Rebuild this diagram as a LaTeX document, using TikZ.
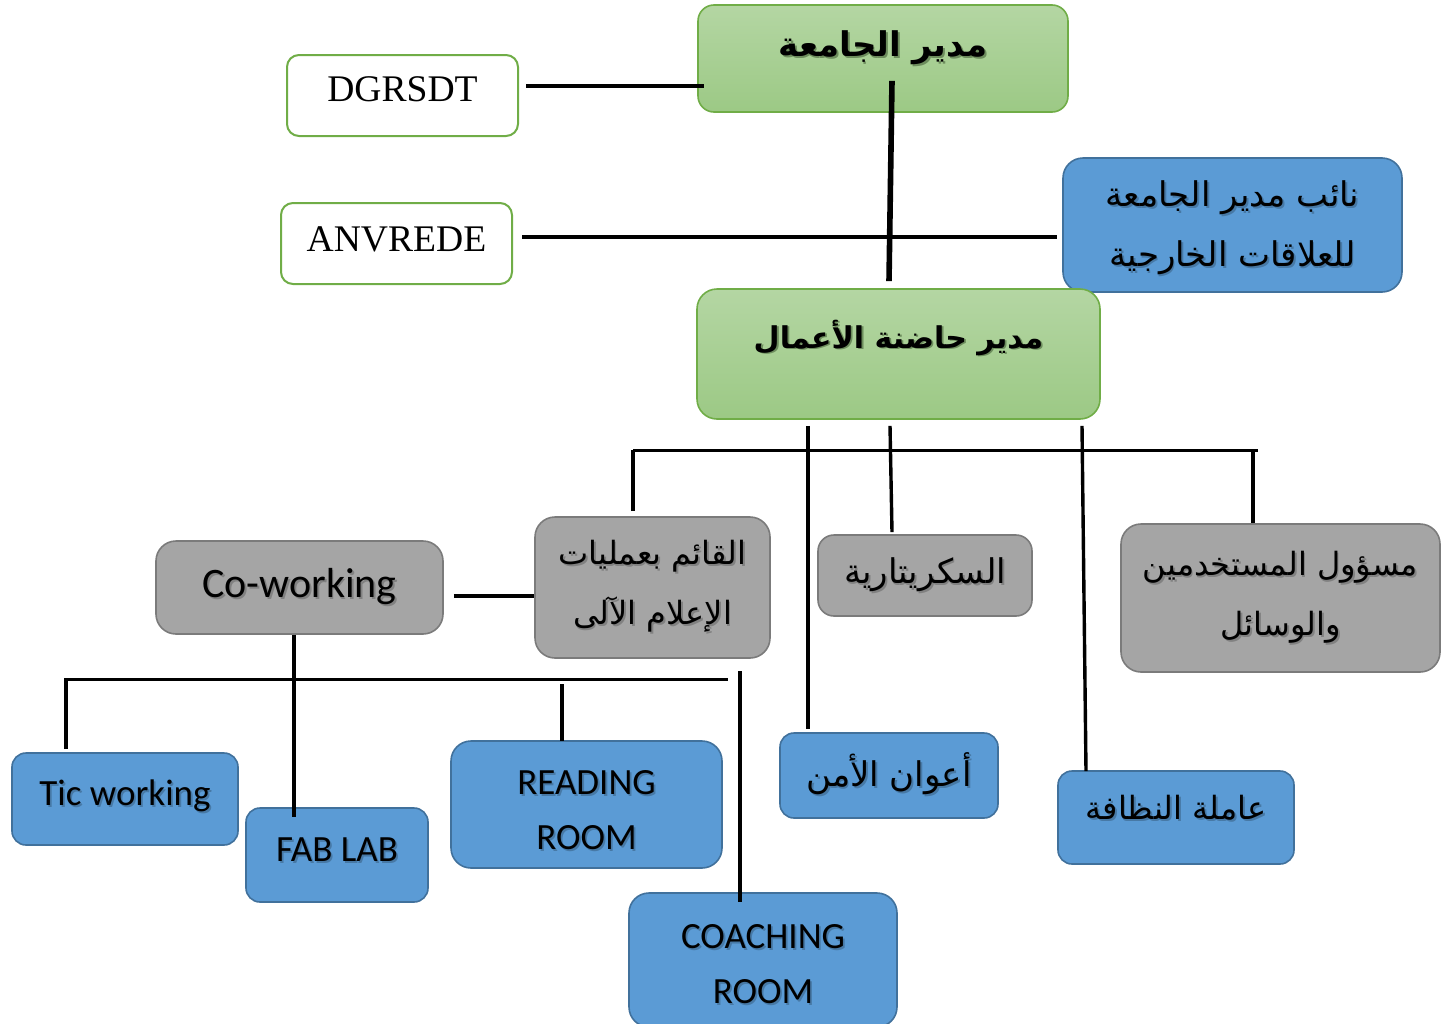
\documentclass[tikz,border=0pt]{standalone}
\usepackage{fontspec}
\setmainfont{Liberation Serif}
\newfontfamily\arabicfont[Script=Arabic]{DejaVu Sans}
\newfontfamily\calibrifont{Carlito}
\TeXXeTstate=1
\usetikzlibrary{calc}
\definecolor{grnline}{HTML}{70AD47}
\definecolor{grnA}{HTML}{B4D6A3}
\definecolor{grnB}{HTML}{9CC985}
\definecolor{bluefill}{HTML}{5B9BD5}
\definecolor{blueline}{HTML}{41719C}
\definecolor{grayfill}{HTML}{A5A5A5}
\definecolor{grayline}{HTML}{7B7B7B}
\colorlet{shcol}{gray}
% right-to-left Arabic run
\newcommand{\ar}[1]{\beginR #1\endR}
% text with a soft offset shadow underneath
\newcommand{\shd}[1]{\leavevmode\rlap{\kern0.9pt\raisebox{-0.9pt}{\color{shcol}#1}}#1}
% push the text of a box upwards by adding depth below it
\newcommand{\lift}[1]{\rule[-#1]{0pt}{0pt}}
\tikzset{
  box/.style={rounded corners=8pt, line width=0.8pt, inner sep=0pt, align=center, text=black},
  sz/.style 2 args={minimum width=#1*0.5pt, minimum height=#2*0.5pt},
  greenbox/.style={box, draw=grnline, top color=grnA, bottom color=grnB,
    execute at begin node={\colorlet{shcol}{grnB!70!black}}},
  whitebox/.style={box, draw=grnline, line width=1pt, fill=white, rounded corners=6pt,
    font=\fontsize{18.8}{24}\selectfont},
  bluebox/.style={box, draw=blueline, fill=bluefill, rounded corners=7pt,
    execute at begin node={\colorlet{shcol}{bluefill!78!black}}},
  graybox/.style={box, draw=grayline, fill=grayfill, rounded corners=10pt,
    execute at begin node={\colorlet{shcol}{grayfill!78!black}}},
  arfont/.style={font=\arabicfont\fontsize{#1}{30}\selectfont},
  arfont/.default=17,
  arbold/.style={font=\arabicfont\bfseries\fontsize{#1}{30}\selectfont},
  latfont/.style={font=\calibrifont\fontsize{18.5}{27.5}\selectfont},
  link/.style={line width=1.7pt, draw=black},
  heavylink/.style={line width=2.8pt, draw=black}
}
\begin{document}
\begin{tikzpicture}[x=0.5pt,y=-0.5pt]
\useasboundingbox (0,0) rectangle (1450,1023);
\clip (0,0) rectangle (1450,1023);

% upper level
\node[greenbox, arbold=17, sz={370}{107}] (top) at (883,58.5) {\shd{\ar{مدير الجامعة}}\lift{15pt}};
\node[whitebox, sz={231}{81}] (dg) at (402.5,95.5) {DGRSDT\lift{6pt}};
\node[whitebox, sz={231}{81}] (an) at (396.5,243.5) {ANVREDE\lift{4pt}};
\node[bluebox, arfont, sz={339}{134}, rounded corners=10pt] (vice) at (1232.5,225)
  {\rule{0pt}{17pt}\shd{\ar{نائب مدير الجامعة}}\\\shd{\ar{للعلاقات الخارجية}}};
\node[greenbox, arbold=15, sz={403}{130}, rounded corners=10pt] (mid) at (898.5,354)
  {\shd{\ar{مدير حاضنة الأعمال}}\lift{20pt}};

% second level
\node[graybox, arfont=16, sz={235}{141}] (qa) at (652.5,587.5)
  {\shd{\ar{القائم بعمليات}}\\\shd{\ar{الإعلام الآلى}}};
\node[graybox, sz={287}{93}, font=\calibrifont\fontsize{21}{25}\selectfont] (cw) at (299.5,587.5) {\shd{Co-working}};
\node[graybox, arfont, sz={214}{81}, rounded corners=8pt] (sec) at (925,575.5) {\shd{\ar{السكريتارية}}};
\node[graybox, arfont=16, sz={319}{148}] (ms) at (1280.5,598)
  {\shd{\ar{مسؤول المستخدمين}}\\\shd{\ar{والوسائل}}};

% third level
\node[bluebox, latfont, sz={226}{92}] (tic) at (125,799) {\shd{Tic working}\lift{6pt}};
\node[bluebox, latfont, sz={182}{94}] (fl) at (337,855) {\shd{FAB LAB}\lift{5pt}};
\node[bluebox, latfont, sz={271}{127}, rounded corners=10pt] (rd) at (586.5,804.5)
  {\rule{0pt}{19pt}\shd{READING}\\\shd{ROOM}};
\node[bluebox, latfont, sz={268}{134}, rounded corners=10pt] (coach) at (763,960)
  {\rule{0pt}{17pt}\shd{COACHING}\\\shd{ROOM}};
\node[bluebox, arfont, sz={218}{85}] (am) at (889,775.5) {\shd{\ar{أعوان الأمن}}\lift{6pt}};
\node[bluebox, arfont=16, sz={236}{93}] (nz) at (1176,817.5) {\shd{\ar{عاملة النظافة}}\lift{10pt}};

% connectors of the upper level
\coordinate (c1) at ($(dg.east)+(7,-9.5)$);
\draw[link] (c1) -- ($(c1 -| top.west)+(7,0)$);
\draw[heavylink] ($(top.south)+(9,-32)$) -- ($(mid.north)+(-9.5,-7)$);
\coordinate (c2) at ($(an.east)+(9,-6.5)$);
\draw[link] (c2) -- ($(c2 -| vice.west)+(-5,0)$);

% bus under the incubator director
\coordinate (b1) at ($(qa.north)+(-19.5,-66)$);
\coordinate (b2) at ($(ms.north)+(-27.5,-73)$);
\draw[link] (b1) -- ($(b2)+(5,0)$);
\draw[link] ($(qa.north)+(-19.5,-5)$) -- (b1);
\draw[link] (b2) -- (b2 |- ms.north);
\draw[link] ($(mid.south)+(-90.5,6)$) -- ($(am.north)+(-81,-3)$);
\draw[link] ($(mid.south)+(-8.5,6)$) -- ($(sec.north)+(-33,-2)$);
\draw[link] ($(mid.south)+(183.5,6)$) -- ($(nz.north)+(-90,1)$);

% co-working branch
\draw[link] ($(cw.east)+(10,8.5)$) -- ($(qa.west)+(0,8.5)$);
\draw[link] ($(cw.south)+(-5.5,0)$) -- ($(fl.north)+(-43,10)$);
\coordinate (b3) at ($(tic.north)+(-59,-73)$);
\draw[link] ($(tic.north)+(-59,-3)$) -- (b3) -- ($(coach.north)+(-35,-213)$);
\draw[link] ($(rd.north)+(-24.5,-56)$) -- ($(rd.north)+(-24.5,1)$);
\draw[link] ($(coach.north)+(-23,-221)$) -- ($(coach.north)+(-23,10)$);
\end{tikzpicture}
\end{document}
